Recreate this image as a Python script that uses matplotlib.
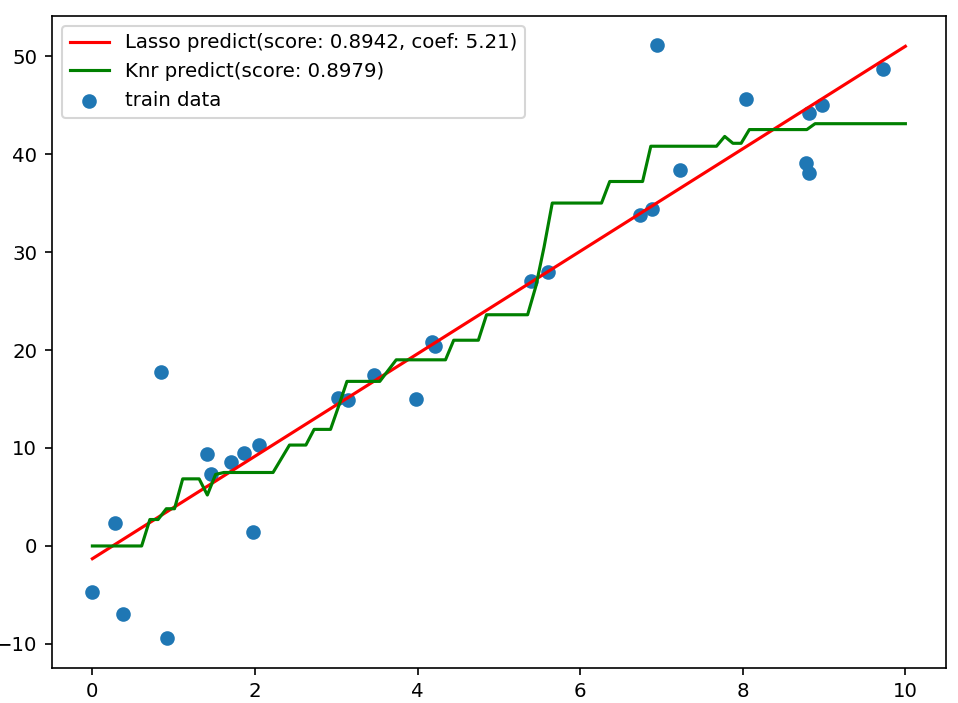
import numpy as np
import matplotlib
matplotlib.use("Agg")
import matplotlib.pyplot as plt

plt.rcParams["font.size"] = 9.5

# training data
train_x = [0.00, 0.28, 0.38, 0.85, 0.92, 1.41, 1.46, 1.71, 1.86, 1.98, 2.05,
           3.02, 3.15, 3.46, 3.98, 4.18, 4.21, 5.39, 5.60, 6.73, 6.88, 6.95,
           7.23, 8.04, 8.78, 8.81, 8.81, 8.98, 9.72]
train_y = [-4.7, 2.3, -6.95, 17.8, -9.4, 9.4, 7.33, 8.6, 9.45, 1.43, 10.26,
           15.1, 14.9, 17.45, 14.97, 20.86, 20.4, 27.0, 28.0, 33.8, 34.4, 51.1,
           38.4, 45.6, 39.1, 38.1, 44.2, 44.96, 48.7]

# Lasso prediction line (endpoints)
lasso_x = [0, 10]
lasso_y = [-1.3, 51.0]

# KNR prediction on a 100-point grid from 0 to 10
knr_x = np.linspace(0, 10, 100)
knr_y = ([0.0] * 7 + [2.7] * 2 + [3.8] * 2 + [6.85] * 3 + [5.2] + [7.3]
         + [7.5] * 7 + [8.9] + [10.3] * 3 + [11.9] * 3 + [14.3] + [16.8] * 5
         + [17.9] + [19.0] * 7 + [21.0] * 4 + [23.6] * 6 + [26.5] + [30.5]
         + [35.0] * 7 + [37.2] * 5 + [40.8] * 9 + [41.8] + [41.1] * 2
         + [42.5] * 8 + [43.1] * 12)

lasso_label = "Lasso predict(score: 0.8942, coef: 5.21)"
knr_label = "Knr predict(score: 0.8979)"
train_label = "train data"

fig = plt.figure(figsize=(958 / 150, 703 / 150), dpi=150)
ax = fig.add_axes([0.054, 0.0502, 0.9875 - 0.054, 0.9777 - 0.0502])

sc = ax.scatter(train_x, train_y, color="C0", label=train_label)
l1, = ax.plot(lasso_x, lasso_y, color="r", label=lasso_label)
l2, = ax.plot(knr_x, knr_y, color="g", label=knr_label)

ax.set_xticks([0, 2, 4, 6, 8, 10])
ax.set_yticks([-10, 0, 10, 20, 30, 40, 50])
ax.legend(handles=[l1, l2, sc], loc="upper left")

fig.savefig("out.png", dpi=150)
